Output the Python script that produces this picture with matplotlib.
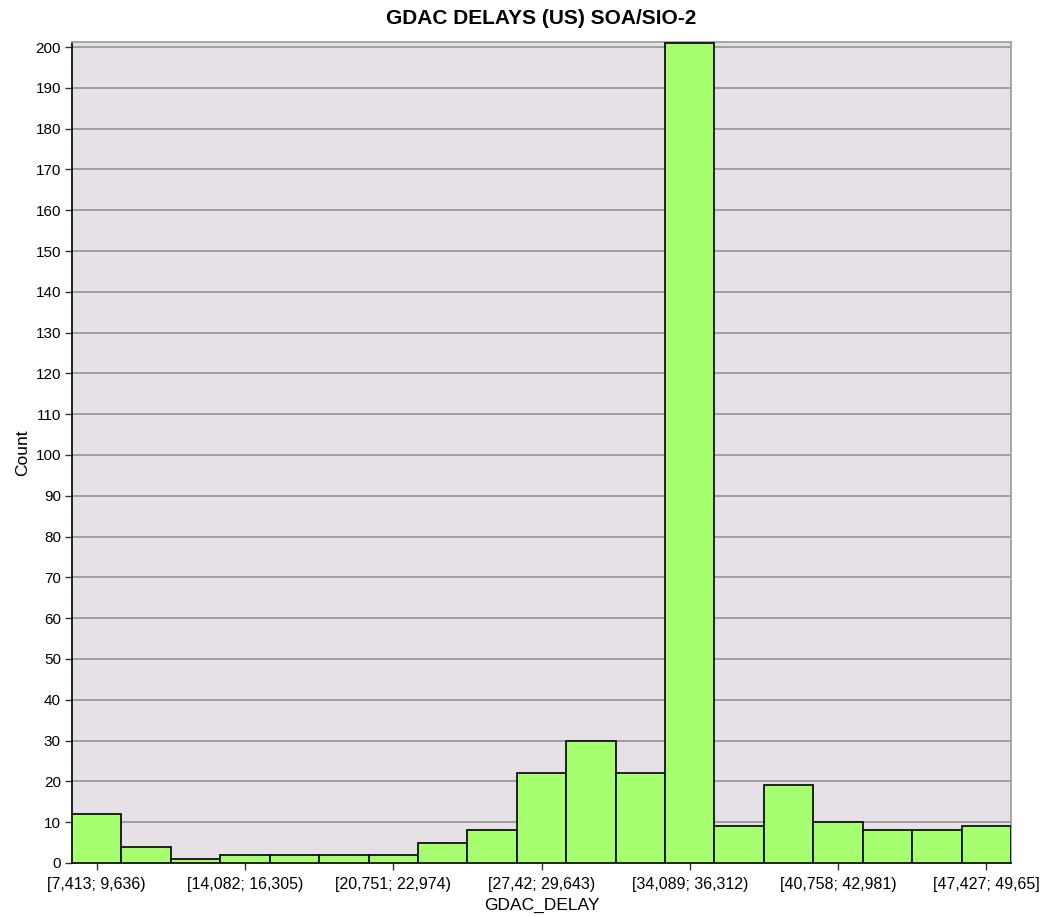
import matplotlib
matplotlib.use('Agg')
import matplotlib.pyplot as plt

plt.rcParams['font.family'] = ['Liberation Sans', 'DejaVu Sans']

# histogram bins (GDAC_DELAY), 19 equal bins
bin_lo = 7.413
bin_hi = 49.65
counts = [12, 4, 1, 2, 2, 2, 2, 5, 8, 22, 30, 22, 201, 9, 19, 10, 8, 8, 9]
tick_bins = [0, 3, 6, 9, 12, 15, 18]
tick_labels = ['[7,413; 9,636)', '[14,082; 16,305)', '[20,751; 22,974)',
               '[27,42; 29,643)', '[34,089; 36,312)', '[40,758; 42,981)',
               '[47,427; 49,65]']

n = len(counts)
width = (bin_hi - bin_lo) / n
lefts = [bin_lo + i * width for i in range(n)]

fig = plt.figure(figsize=(10.47, 9.16), dpi=100)
ax = fig.add_axes([0.0688, 0.0579, 0.8968, 0.8961])
ax.set_facecolor('#E6E1E6')

ax.bar(lefts, counts, width=width, align='edge', color='#A6FF6E',
       edgecolor='#111111', linewidth=1.3, zorder=3)

ax.set_xlim(bin_lo, bin_hi)
ax.set_ylim(0, 201.2)
ax.set_yticks(range(0, 201, 10))
ax.yaxis.grid(True, color='#9A9A9A', linewidth=1.3, zorder=0)
ax.set_axisbelow(True)

ax.set_xticks([lefts[i] + width / 2 for i in tick_bins])
ax.set_xticklabels(tick_labels)
ax.tick_params(axis='both', length=5, width=1, color='#333333')
ax.tick_params(axis='y', labelsize=11, pad=3)
ax.tick_params(axis='x', labelsize=11.5, pad=5)

for s in ['left', 'bottom']:
    ax.spines[s].set_color('#111111')
    ax.spines[s].set_linewidth(1.3)
for s in ['top', 'right']:
    ax.spines[s].set_color('#A0A0A0')
    ax.spines[s].set_linewidth(1.3)

ax.set_xlabel('GDAC_DELAY', fontsize=12.5, labelpad=4)
ax.set_ylabel('Count', fontsize=12.5, labelpad=4)
ax.set_title('GDAC DELAYS (US) SOA/SIO-2', fontsize=15, fontweight='bold', pad=13)

fig.savefig('out.png', dpi=100)
